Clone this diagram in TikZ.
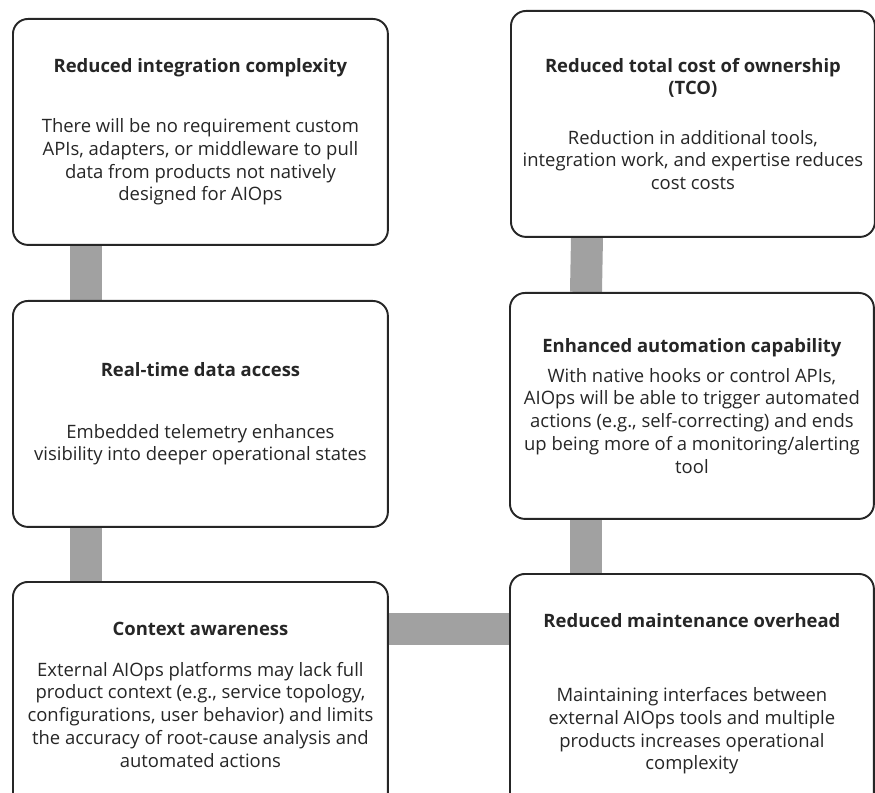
\documentclass[tikz,border=0pt]{standalone}
\usepackage{fontspec}
\setmainfont{Open Sans}
\usetikzlibrary{backgrounds}

\tikzset{
  card/.style={draw=black!85, line width=1.1pt, rounded corners=0.3cm, fill=white,
    anchor=north west, align=center, inner sep=0pt, text=black!85,
    font=\fontsize{10.5}{13}\selectfont},
  link/.style={draw=black!37, line width=0.64cm},
}

\begin{document}
\begin{tikzpicture}[x=0.02cm, y=-0.02cm]
  \def\lw{7.5cm}
  \def\rw{7.28cm}
  \def\cardh{4.52cm}
  \useasboundingbox (0,0) rectangle (875,793);
  \clip (0,0) rectangle (875,793);

  \node[card, minimum width=\lw, minimum height=\cardh] (integ) at (12,18)
    {\textbf{Reduced integration complexity}\\[21pt]
     There will be no requirement custom\\
     APIs, adapters, or middleware to pull\\
     data from products not natively\\
     designed for AIOps};
  \node[card, minimum width=\rw, minimum height=\cardh] (tco) at (510,10)
    {\textbf{Reduced total cost of ownership}\\ \textbf{(TCO)}\\[15pt]
     Reduction in additional tools,\\
     integration work, and expertise reduces\\
     cost costs};
  \node[card, minimum width=\lw, minimum height=\cardh] (realtime) at (12,300)
    {\textbf{Real-time data access}\\[22pt]
     Embedded telemetry enhances\\
     visibility into deeper operational states};
  \node[card, minimum width=\rw, minimum height=\cardh] (automation) at (509,292)
    {\textbf{Enhanced automation capability}\\[4pt]
     With native hooks or control APIs,\\
     AIOps will be able to trigger automated\\
     actions (e.g., self-correcting) and ends\\
     up being more of a monitoring/alerting\\
     tool};
  \node[card, minimum width=\lw, minimum height=\cardh] (context) at (12,581)
    {\textbf{Context awareness}\\[10pt]
     External AIOps platforms may lack full\\
     product context (e.g., service topology,\\
     configurations, user behavior) and limits\\
     the accuracy of root-cause analysis and\\
     automated actions};
  \node[card, minimum width=\rw, minimum height=4.8cm] (maint) at (509,573)
    {\textbf{Reduced maintenance overhead}\\[29pt]
     Maintaining interfaces between\\
     external AIOps tools and multiple\\
     products increases operational\\
     complexity};

  % grey bars behind the cards
  \coordinate (hlink) at ([yshift=-0.97cm]context.north east);
  \begin{pgfonlayer}{background}
    \draw[link] ([xshift=1.49cm]integ.south west) -- ([xshift=1.49cm]realtime.north west);
    \draw[link] ([xshift=1.49cm]realtime.south west) -- ([xshift=1.49cm]context.north west);
    \draw[link] ([xshift=1.54cm]tco.south west) -- ([xshift=1.54cm]automation.north west);
    \draw[link] ([xshift=1.54cm]automation.south west) -- ([xshift=1.54cm]maint.north west);
    \draw[link] (hlink) -- (hlink -| maint.west);
  \end{pgfonlayer}
\end{tikzpicture}
\end{document}
